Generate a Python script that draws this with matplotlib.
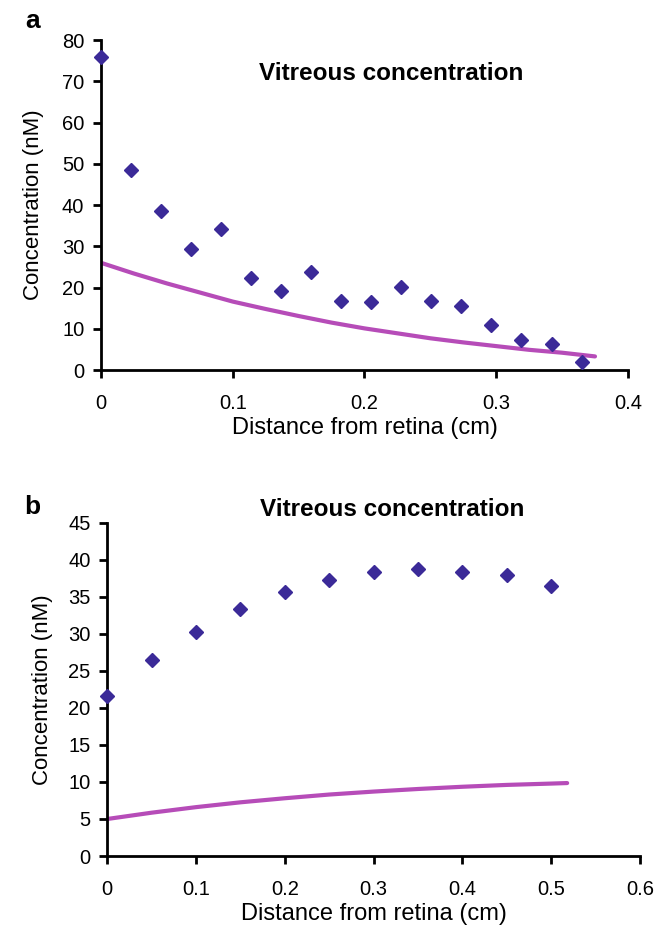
import matplotlib.pyplot as plt

plt.rcParams['font.family'] = ['Liberation Sans', 'DejaVu Sans']

# Panel a data
a_x = [0, 0.0228, 0.0456, 0.0684, 0.0912, 0.114, 0.1368, 0.1596, 0.1824,
       0.2052, 0.228, 0.2508, 0.2736, 0.2964, 0.3192, 0.342, 0.3648]
a_y = [75.8, 48.4, 38.5, 29.4, 34.2, 22.3, 19.2, 23.8, 16.8,
       16.5, 20.2, 16.8, 15.6, 10.8, 7.2, 6.3, 2.0]
a_model_x = [0, 0.025, 0.05, 0.075, 0.1, 0.125, 0.15, 0.175, 0.2, 0.225,
             0.25, 0.275, 0.3, 0.325, 0.35, 0.375]
a_model_y = [26.0, 23.4, 21.0, 18.8, 16.6, 14.8, 13.1, 11.5, 10.1, 8.9,
             7.7, 6.7, 5.8, 4.9, 4.2, 3.3]

# Panel b data
b_x = [0, 0.05, 0.1, 0.15, 0.2, 0.25, 0.3, 0.35, 0.4, 0.45, 0.5]
b_y = [21.6, 26.4, 30.2, 33.3, 35.6, 37.2, 38.4, 38.8, 38.3, 38.0, 36.5]
b_model_x = [0, 0.05, 0.1, 0.15, 0.2, 0.25, 0.3, 0.35, 0.4, 0.45, 0.5, 0.518]
b_model_y = [5.0, 5.85, 6.6, 7.25, 7.8, 8.3, 8.7, 9.05, 9.35, 9.6, 9.78, 9.85]

point_color = '#3b2a98'
line_color = '#b64cb8'

fig = plt.figure(figsize=(6.68, 9.33), dpi=100)
ax1 = fig.add_axes([0.1512, 0.6034, 0.7888, 0.3536])
ax2 = fig.add_axes([0.1606, 0.0825, 0.7974, 0.3573])

def style(ax, ylabpad):
    for s in ['top', 'right']:
        ax.spines[s].set_visible(False)
    for s in ['left', 'bottom']:
        ax.spines[s].set_linewidth(2)
    ax.tick_params(width=2, length=6, labelsize=14.5, direction='out')
    ax.tick_params(axis='x', pad=11)
    ax.tick_params(axis='y', pad=6)
    ax.set_xlabel('Distance from retina (cm)', fontsize=17, labelpad=3)
    ax.set_ylabel('Concentration (nM)', fontsize=16, labelpad=ylabpad)

ax1.plot(a_model_x, a_model_y, color=line_color, lw=3, solid_capstyle='round', zorder=2)
ax1.plot(a_x, a_y, 'D', color=point_color, ms=7, clip_on=False, zorder=3)
ax1.set_xlim(0, 0.4)
ax1.set_ylim(0, 80)
ax1.set_xticks([0, 0.1, 0.2, 0.3, 0.4])
ax1.set_xticklabels(['0', '0.1', '0.2', '0.3', '0.4'])
ax1.set_yticks(range(0, 81, 10))
style(ax1, 13)
ax1.text(0.55, 0.9, 'Vitreous concentration', transform=ax1.transAxes,
         ha='center', va='center', fontsize=17.5, fontweight='bold')

ax2.plot(b_model_x, b_model_y, color=line_color, lw=3, solid_capstyle='round', zorder=2)
ax2.plot(b_x, b_y, 'D', color=point_color, ms=7, clip_on=False, zorder=3)
ax2.set_xlim(0, 0.6)
ax2.set_ylim(0, 45)
ax2.set_xticks([0, 0.1, 0.2, 0.3, 0.4, 0.5, 0.6])
ax2.set_xticklabels(['0', '0.1', '0.2', '0.3', '0.4', '0.5', '0.6'])
ax2.set_yticks(range(0, 46, 5))
style(ax2, 11)
ax2.text(0.535, 1.04, 'Vitreous concentration', transform=ax2.transAxes,
         ha='center', va='center', fontsize=17.5, fontweight='bold')

fig.text(0.048, 0.977, 'a', fontsize=19, fontweight='bold', ha='center', va='center')
fig.text(0.048, 0.457, 'b', fontsize=19, fontweight='bold', ha='center', va='center')

fig.savefig('out.png', dpi=100)
